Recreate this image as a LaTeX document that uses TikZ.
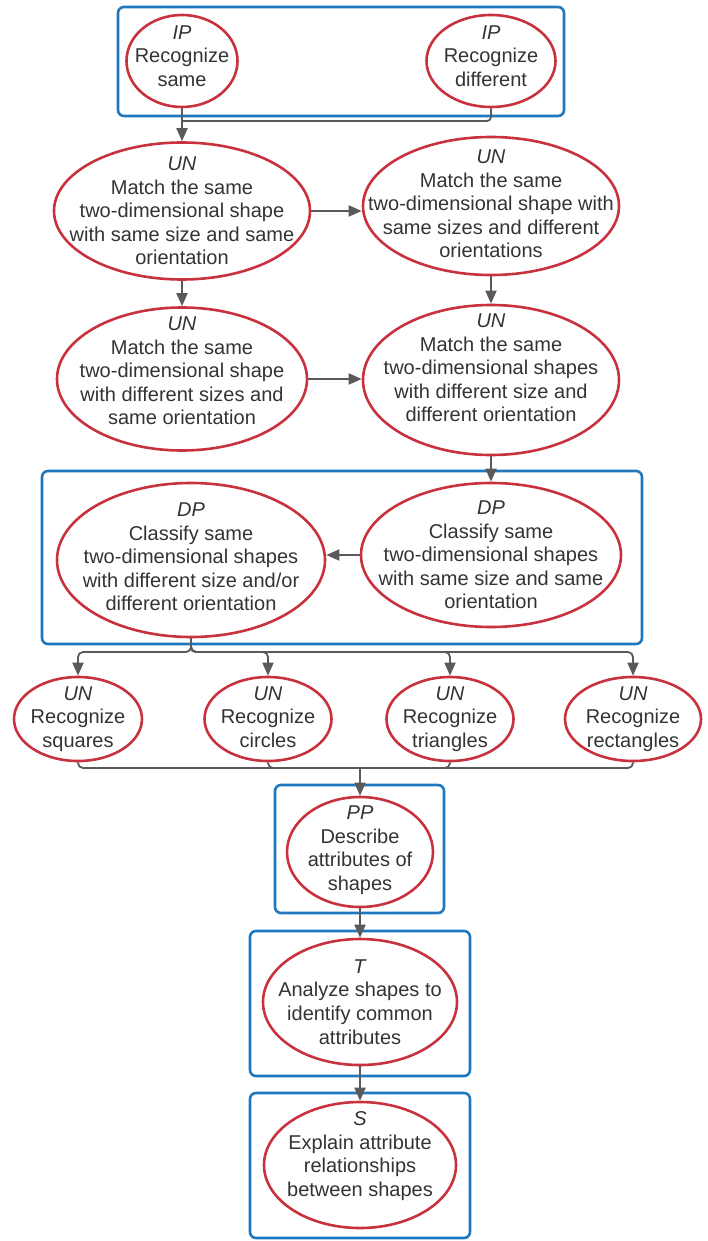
\documentclass[tikz,border=0pt]{standalone}
\usepackage{fontspec}
\setmainfont{Liberation Sans}
\usetikzlibrary{arrows.meta,shapes.geometric}
\definecolor{ered}{HTML}{C8323E}
\definecolor{bblue}{HTML}{1F78BE}
\definecolor{lgray}{HTML}{5A5A5A}
\definecolor{tgray}{HTML}{333333}
\begin{document}
\begin{tikzpicture}[x=1pt,y=-1pt,
  ell/.style={ellipse,draw=ered,line width=2.6pt,inner sep=0pt},
  txt/.style={align=center,text=tgray,inner sep=0pt,font=\fontsize{20}{23.6}\selectfont},
  grp/.style={rectangle,draw=bblue,line width=2.6pt,rounded corners=6pt,inner sep=0pt},
  conn/.style={draw=lgray,line width=1.8pt,-{Triangle[length=13pt,width=11pt]}},
  plain/.style={draw=lgray,line width=1.8pt}]
\useasboundingbox (0,0) rectangle (708,1241);

% group boxes
\node[grp,minimum width=446pt,minimum height=109pt] (gip) at (341,61.5) {};
\node[grp,minimum width=600pt,minimum height=173pt] (gdp) at (342,557.5) {};
\node[grp,minimum width=169pt,minimum height=128pt] (gpp) at (359.5,849) {};
\node[grp,minimum width=220pt,minimum height=145pt] (gt) at (360,1003.5) {};
\node[grp,minimum width=220pt,minimum height=145pt] (gs) at (360,1165.5) {};

% ellipses
\node[ell,minimum width=111pt,minimum height=92pt] (ip1) at (182,61) {};
\node[txt] (ip1t) at ([yshift=5pt]ip1) {\textit{IP}\\Recognize\\same};
\node[ell,minimum width=129pt,minimum height=92pt] (ip2) at (491,61) {};
\node[txt] (ip2t) at ([yshift=5pt]ip2) {\textit{IP}\\Recognize\\different};

\node[ell,minimum width=256pt,minimum height=137pt] (un1) at (182,211) {};
\node[txt] (un1t) at (un1) {\textit{UN}\\Match the same\\two-dimensional shape\\with same size and same\\orientation};
\node[ell,minimum width=256pt,minimum height=138pt] (un2) at (491,206) {};
\node[txt] (un2t) at ([yshift=2pt]un2) {\textit{UN}\\Match the same\\two-dimensional shape with\\same sizes and different\\orientations};
\node[ell,minimum width=250pt,minimum height=143pt] (un3) at (182,379) {};
\node[txt] (un3t) at ([yshift=8pt]un3) {\textit{UN}\\Match the same\\two-dimensional shape\\with different sizes and\\same orientation};
\node[ell,minimum width=256pt,minimum height=150pt] (un4) at (491,380) {};
\node[txt] (un4t) at ([yshift=12pt]un4) {\textit{UN}\\Match the same\\two-dimensional shapes\\with different size and\\different orientation};

\node[ell,minimum width=268pt,minimum height=154pt] (dp1) at (191,560) {};
\node[txt] (dp1t) at ([yshift=3pt]dp1) {\textit{DP}\\Classify same\\two-dimensional shapes\\with different size and/or\\different orientation};
\node[ell,minimum width=260pt,minimum height=144pt] (dp2) at (491,555) {};
\node[txt] (dp2t) at (dp2) {\textit{DP}\\Classify same\\two-dimensional shapes\\with same size and same\\orientation};

\node[ell,minimum width=128pt,minimum height=84pt] (sq) at (78,719) {};
\node[txt] (sqt) at (sq) {\textit{UN}\\Recognize\\squares};
\node[ell,minimum width=127pt,minimum height=84pt] (ci) at (268,719) {};
\node[txt] (cit) at (ci) {\textit{UN}\\Recognize\\circles\vphantom{q}};
\node[ell,minimum width=127pt,minimum height=84pt] (tr) at (450,719) {};
\node[txt] (trt) at (tr) {\textit{UN}\\Recognize\\triangles};
\node[ell,minimum width=136pt,minimum height=84pt] (re) at (633,719) {};
\node[txt] (ret) at (re) {\textit{UN}\\Recognize\\rectangles};

\node[ell,minimum width=146pt,minimum height=110pt] (pp) at (360,852) {};
\node[txt] (ppt) at ([yshift=2pt]pp) {\textit{PP}\\Describe\\attributes of\\shapes};
\node[ell,minimum width=194pt,minimum height=126pt] (t) at (360,1002) {};
\node[txt] (tt) at (t) {\textit{T}\\Analyze shapes to\\identify common\\attributes};
\node[ell,minimum width=192pt,minimum height=126pt] (s) at (360,1165) {};
\node[txt] (st) at ([yshift=9pt]s) {\textit{S}\\Explain attribute\\relationships\\between shapes};

% connectors
\coordinate (j1) at (182,121);
\draw[plain,rounded corners=4pt] (ip2.south) |- (j1);
\draw[conn] (ip1.south) -- (un1.north);
\draw[conn] (un1.east) -- (un1.east -| un2.west);
\draw[conn] (un1.south) -- (un3.north);
\draw[conn] (un2.south) -- (un4.north);
\draw[conn] (un3.east) -- (un3.east -| un4.west);
\draw[conn] (un4.south) -- (dp2.north);
\draw[conn] (dp2.west) -- (dp2.west -| dp1.east);

\coordinate (bj) at (191,652);
\draw[conn,rounded corners=5pt] (dp1.south) -- (bj) -| (sq.north);
\draw[conn,rounded corners=5pt] (dp1.south) -- (bj) -| (ci.north);
\draw[conn,rounded corners=5pt] (dp1.south) -- (bj) -| (tr.north);
\draw[conn,rounded corners=5pt] (dp1.south) -- (bj) -| (re.north);

\coordinate (mj) at (360,768);
\draw[plain,rounded corners=5pt] (sq.south) |- (mj);
\draw[plain,rounded corners=5pt] (ci.south) |- (mj);
\draw[plain,rounded corners=5pt] (tr.south) |- (mj);
\draw[plain,rounded corners=5pt] (re.south) |- (mj);
\draw[conn] (mj) -- (pp.north);
\draw[conn] (pp.south) -- (t.north);
\draw[conn] (t.south) -- (s.north);
\end{tikzpicture}
\end{document}
